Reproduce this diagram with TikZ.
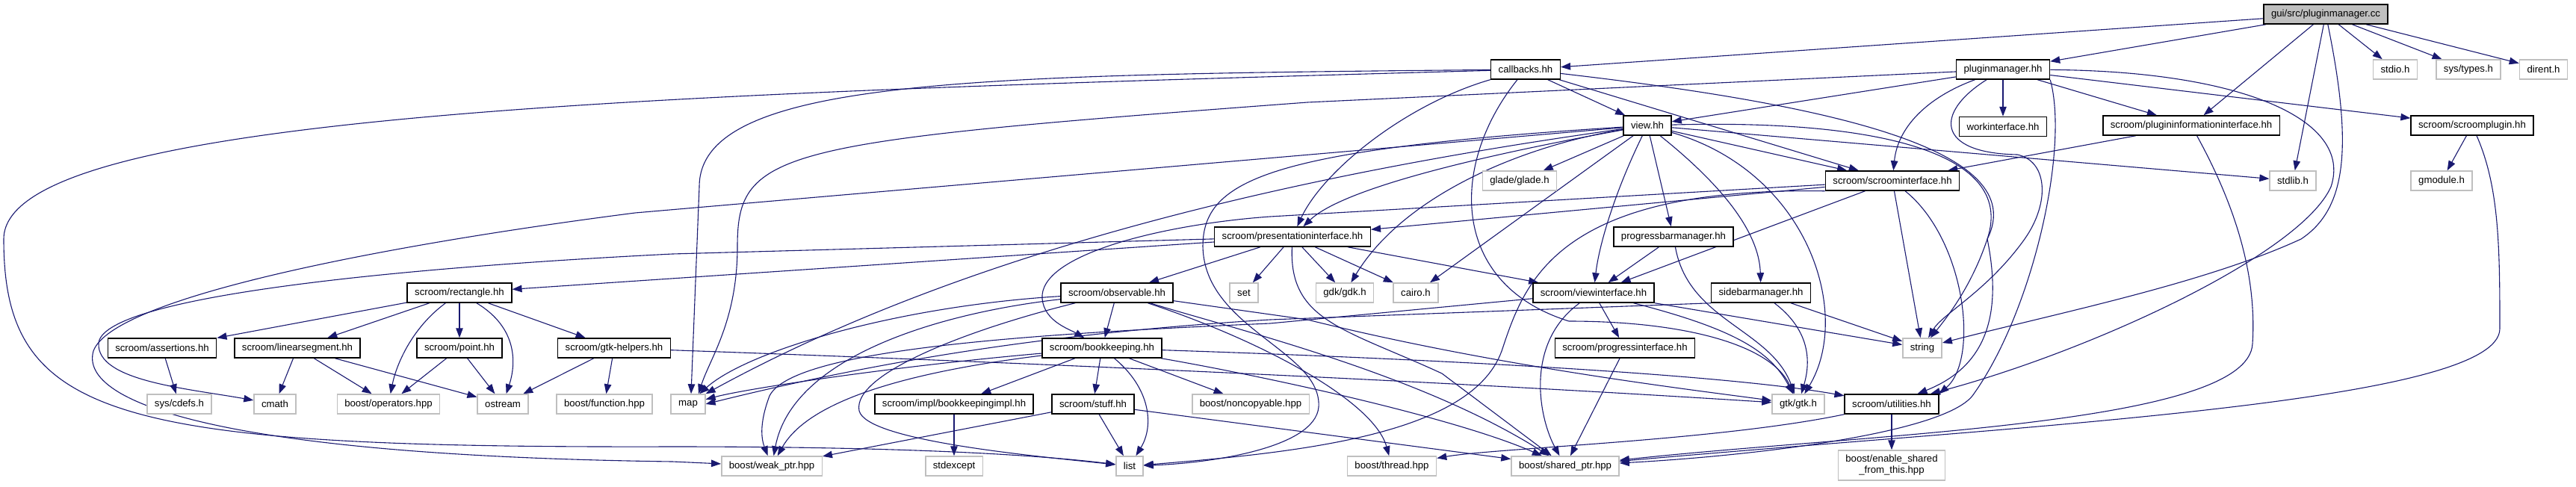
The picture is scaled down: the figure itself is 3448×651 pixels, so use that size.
\documentclass[tikz,border=0pt]{standalone}
\usepackage{fontspec}
\setmainfont{Liberation Sans}
\usepackage{tikz}
\usetikzlibrary{arrows.meta, positioning, backgrounds}
\definecolor{incblue}{HTML}{191970}
\definecolor{sysgray}{HTML}{BFBFBF}

\begin{document}
\begin{tikzpicture}[
  x=1pt, y=-1pt,
  node distance=24pt,
  box/.style={rectangle, draw, line width=1.5pt, fill=white, minimum height=26pt, inner xsep=10pt, inner ysep=2pt, font=\fontsize{13.2}{15}\selectfont},
  hdr/.style={box, draw=black},
  sys/.style={box, draw=sysgray},
  root/.style={box, draw=black, fill=sysgray},
  inc/.style={-{Triangle[length=13pt, width=9.5pt]}, line width=1.1pt, color=incblue},
]
  \useasboundingbox (0,0) rectangle (3448,651);

  % Source file and direct includes
  \node[root] (cc) at (3113,19) {gui/src/pluginmanager.cc};
  \node[hdr] (callbacks) at (2042,93) {callbacks.hh};
  \node[hdr] (pmhh) at (2681,93) {pluginmanager.hh};
  \node[sys] (stdio) at (3206,93) {stdio.h};
  \node[sys, right=of stdio] (systypes) {sys/types.h};
  \node[sys, right=of systypes] (dirent) {dirent.h};

  % Second level
  \node[hdr] (view) at (2205,168) {view.hh};
  \node[hdr, below=49pt of pmhh] (work) {workinterface.hh};
  \node[hdr] (pinfo) at (2933,168) {scroom/plugininformationinterface.hh};
  \node[hdr] (splugin) at (3309,168) {scroom/scroomplugin.hh};

  % Third level
  \node[sys] (glade) at (2034,242) {glade/glade.h};
  \node[hdr] (sint) at (2533,242) {scroom/scroominterface.hh};
  \node[sys] (stdlib) at (3069,242) {stdlib.h};
  \node[sys] (gmodule) at (3268,242) {gmodule.h};

  % Fourth level
  \node[hdr] (pres) at (1730,317) {scroom/presentationinterface.hh};
  \node[hdr] (pbm) at (2240,317) {progressbarmanager.hh};

  % Fifth level
  \node[hdr] (rect) at (615,392) {scroom/rectangle.hh};
  \node[hdr] (obs) at (1495,392) {scroom/observable.hh};
  \node[sys] (set) at (1665,392) {set};
  \node[sys] (gdk) at (1800,392) {gdk/gdk.h};
  \node[sys] (cairo) at (1895,392) {cairo.h};
  \node[hdr] (vint) at (2133,392) {scroom/viewinterface.hh};
  \node[hdr] (sbm) at (2357,392) {sidebarmanager.hh};

  % Sixth level
  \node[hdr] (assert) at (217,466) {scroom/assertions.hh};
  \node[hdr] (lseg) at (398,466) {scroom/linearsegment.hh};
  \node[hdr] (point) at (615,466) {scroom/point.hh};
  \node[hdr] (gtkh) at (822,466) {scroom/gtk-helpers.hh};
  \node[hdr] (book) at (1475,466) {scroom/bookkeeping.hh};
  \node[hdr] (pint) at (2175,466) {scroom/progressinterface.hh};
  \node[sys] (string) at (2573,466) {string};

  % Seventh level
  \node[sys] (cdefs) at (240,541) {sys/cdefs.h};
  \node[sys] (cmath) at (368,541) {cmath};
  \node[sys] (ops) at (520,541) {boost/operators.hpp};
  \node[sys] (ostream) at (673,541) {ostream};
  \node[sys] (func) at (809,541) {boost/function.hpp};
  \node[sys] (map) at (921,541) {map};
  \node[hdr] (bimpl) at (1277,541) {scroom/impl/bookkeepingimpl.hh};
  \node[hdr] (stuff) at (1463,541) {scroom/stuff.hh};
  \node[sys] (noncopy) at (1674,541) {boost/noncopyable.hpp};
  \node[sys] (gtk) at (2407,541) {gtk/gtk.h};
  \node[hdr] (util) at (2532,541) {scroom/utilities.hh};

  % Bottom level
  \node[sys] (weak) at (1033,624) {boost/weak\_ptr.hpp};
  \node[sys] (stdexcept) at (1277,624) {stdexcept};
  \node[sys] (list) at (1512,624) {list};
  \node[sys] (thread) at (1863,624) {boost/thread.hpp};
  \node[sys] (shared) at (2095,624) {boost/shared\_ptr.hpp};
  \node[sys, minimum height=40pt, align=center] (enable) at (2532,623) {boost/enable\_shared\\\_from\_this.hpp};

  \begin{scope}[on background layer]
  % Includes of the source file
  \draw[inc] (cc) -- (callbacks);
  \draw[inc] (cc) -- (pmhh);
  \draw[inc] (cc) -- (pinfo);
  \draw[inc] (cc) -- (stdlib);
  \draw[inc] (cc) -- (stdio);
  \draw[inc] (cc) -- (systypes);
  \draw[inc] (cc) -- (dirent);
  \draw[inc] (cc) .. controls (3150,200) and (3140,280) .. (3080,320) .. controls (2950,380) and (2750,420) .. (string);

  % callbacks.hh
  \draw[inc] (callbacks) -- (view);
  \draw[inc] (callbacks) -- (sint);
  \draw[inc] (callbacks) .. controls (1880,140) and (1770,230) .. (pres);
  \draw[inc] (callbacks) .. controls (1300,100) and (936,105) .. (936,250) -- ([xshift=4pt]map.north);
  \draw[inc] (callbacks) .. controls (900,125) and (5,150) .. (5,320) .. controls (5,560) and (150,600) .. (900,598) .. controls (1200,598) and (1380,608) .. (list);
  \draw[inc] (callbacks) .. controls (1940,220) and (1940,380) .. (2100,430) .. controls (2250,430) and (2370,460) .. (gtk);
  \draw[inc] (callbacks) .. controls (2450,140) and (2720,200) .. (2660,320) .. controls (2640,380) and (2610,420) .. (string);

  % pluginmanager.hh
  \draw[inc] (pmhh) -- (view);
  \draw[inc] (pmhh) -- (work);
  \draw[inc] (pmhh) -- (pinfo);
  \draw[inc] (pmhh) -- (splugin);
  \draw[inc] (pmhh) .. controls (2580,130) and (2540,170) .. (sint);
  \draw[inc] (pmhh) .. controls (2590,150) and (2590,205) .. (2700,207) .. controls (2740,215) and (2745,270) .. (2710,320) .. controls (2660,390) and (2600,420) .. (string);
  \draw[inc] (pmhh) .. controls (3000,95) and (3150,160) .. (3120,250) .. controls (3080,340) and (2800,470) .. (util);
  \draw[inc] (pmhh) -- (1750,137) .. controls (1040,190) and (987,200) .. (987,330) .. controls (987,430) and (950,480) .. ([xshift=14pt]map.north);
  \draw[inc] (pmhh.south east) .. controls (2770,200) and (2720,420) .. (2640,530) .. controls (2600,580) and (2350,610) .. (shared);

  % view.hh
  \draw[inc] (view) -- (glade);
  \draw[inc] (view) -- (stdlib);
  \draw[inc] (view) -- (sint);
  \draw[inc] (view) -- (pbm);
  \draw[inc] (view) -- (cairo);
  \draw[inc] (view) .. controls (2160,260) and (2140,330) .. (vint);
  \draw[inc] (view) .. controls (2320,260) and (2355,320) .. (sbm);
  \draw[inc] (view) .. controls (2420,230) and (2480,420) .. (gtk);
  \draw[inc] (view) .. controls (2040,195) and (1880,260) .. (gdk);
  \draw[inc] (view) .. controls (2000,205) and (1800,250) .. (pres);
  \draw[inc] (view) .. controls (1650,245) and (1250,360) .. (map.north east);
  \draw[inc] (view) -- (850,285) .. controls (500,330) and (150,400) .. (125,470) .. controls (105,540) and (300,610) .. (900,618) -- (weak);
  \draw[inc] (view) .. controls (1700,200) and (1610,240) .. (1610,330) .. controls (1612,440) and (1770,470) .. (1765,545) .. controls (1760,600) and (1620,620) .. (list);
  \draw[inc] (view) .. controls (2500,160) and (2700,200) .. (2660,320) .. controls (2680,420) and (2660,490) .. (util);

  % scroominterface.hh
  \draw[inc] (sint) -- (pres);
  \draw[inc] (sint) -- (vint);
  \draw[inc] (sint) -- (string);
  \draw[inc] (sint) -- (1700,290) .. controls (1560,300) and (1390,340) .. (1395,400) .. controls (1398,430) and (1430,440) .. (book);
  \draw[inc] (sint.south west) .. controls (2080,250) and (2040,380) .. (2010,470) .. controls (1970,580) and (1750,605) .. (list);
  \draw[inc] (sint) .. controls (2630,320) and (2650,480) .. (util.north east);

  % plugin headers
  \draw[inc] (pinfo) -- (sint);
  \draw[inc] (pinfo) .. controls (3000,290) and (3020,380) .. (3015,460) .. controls (3010,570) and (2500,580) .. (shared);
  \draw[inc] (splugin) -- (gmodule);
  \draw[inc] (splugin) .. controls (3345,250) and (3346,330) .. (3346,440) .. controls (3346,540) and (2700,570) .. (shared);

  % presentationinterface.hh
  \draw[inc] (pres) -- (rect);
  \draw[inc] (pres) -- (900,340) .. controls (500,360) and (135,400) .. (132,460) .. controls (130,510) and (250,520) .. (cmath);
  \draw[inc] (pres) -- (obs);
  \draw[inc] (pres) -- (set);
  \draw[inc] (pres) -- (gdk);
  \draw[inc] (pres) -- (cairo);
  \draw[inc] (pres) -- (vint);
  \draw[inc] (pres) .. controls (1725,430) and (1800,440) .. (1930,500) -- (shared);

  % progressbarmanager.hh
  \draw[inc] (pbm) -- (vint);
  \draw[inc] (pbm) .. controls (2260,430) and (2370,440) .. (gtk);

  % viewinterface.hh
  \draw[inc] (vint) -- (pint);
  \draw[inc] (vint) -- (string);
  \draw[inc] (vint) .. controls (2040,460) and (2060,560) .. (shared);
  \draw[inc] (vint) .. controls (2320,440) and (2370,470) .. (gtk);
  \draw[inc] (vint) -- (1700,433) .. controls (1350,448) and (1060,470) .. (1030,530) .. controls (1015,570) and (1020,590) .. (weak);

  % sidebarmanager.hh
  \draw[inc] (sbm) -- (string);
  \draw[inc] (sbm) .. controls (2420,440) and (2425,480) .. (gtk);
  \draw[inc] (sbm.south west) -- (1700,428) .. controls (1420,445) and (1190,480) .. (map.east);

  % observable.hh
  \draw[inc] (obs) -- (book);
  \draw[inc] (obs) .. controls (1200,410) and (1000,470) .. (map);
  \draw[inc] (obs) .. controls (1250,420) and (1060,480) .. (weak);
  \draw[inc] (obs) .. controls (1300,440) and (1140,500) .. (1150,550) .. controls (1160,590) and (1380,610) .. (list);
  \draw[inc] (obs) .. controls (1650,440) and (1900,500) .. (shared);
  \draw[inc] (obs) .. controls (1700,460) and (1840,540) .. (thread);
  \draw[inc] (obs) -- (1750,428) .. controls (2000,490) and (2250,520) .. (gtk);

  % bookkeeping.hh
  \draw[inc] (book) -- (bimpl);
  \draw[inc] (book) -- (stuff);
  \draw[inc] (book) -- (noncopy);
  \draw[inc] (book) .. controls (1540,520) and (1545,570) .. (list);
  \draw[inc] (book) .. controls (1200,490) and (1000,520) .. (map);
  \draw[inc] (book) .. controls (1200,500) and (1080,540) .. (weak);
  \draw[inc] (book) .. controls (1700,505) and (1950,560) .. (shared);
  \draw[inc] (book) .. controls (1900,480) and (2300,500) .. (util);

  % small headers
  \draw[inc] (bimpl) -- (stdexcept);
  \draw[inc] (stuff) -- (list);
  \draw[inc] (stuff) -- (weak);
  \draw[inc] (stuff) -- (shared);
  \draw[inc] (pint) -- (shared);
  \draw[inc] (util) -- (enable);
  \draw[inc] (util.south west) .. controls (2300,590) and (2000,600) .. (thread);

  % rectangle.hh and friends
  \draw[inc] (rect) -- (assert);
  \draw[inc] (rect) -- (lseg);
  \draw[inc] (rect) -- (point);
  \draw[inc] (rect) -- (gtkh);
  \draw[inc] (rect) .. controls (550,440) and (530,490) .. (ops);
  \draw[inc] (rect) .. controls (695,440) and (690,490) .. (ostream);
  \draw[inc] (assert) -- (cdefs);
  \draw[inc] (lseg) -- (cmath);
  \draw[inc] (lseg) -- (ops);
  \draw[inc] (lseg) -- (ostream);
  \draw[inc] (point) -- (ops);
  \draw[inc] (point) -- (ostream);
  \draw[inc] (gtkh) -- (ostream);
  \draw[inc] (gtkh) -- (func);
  \draw[inc] (gtkh) .. controls (1500,490) and (2000,515) .. (gtk);
  \end{scope}
\end{tikzpicture}
\end{document}
